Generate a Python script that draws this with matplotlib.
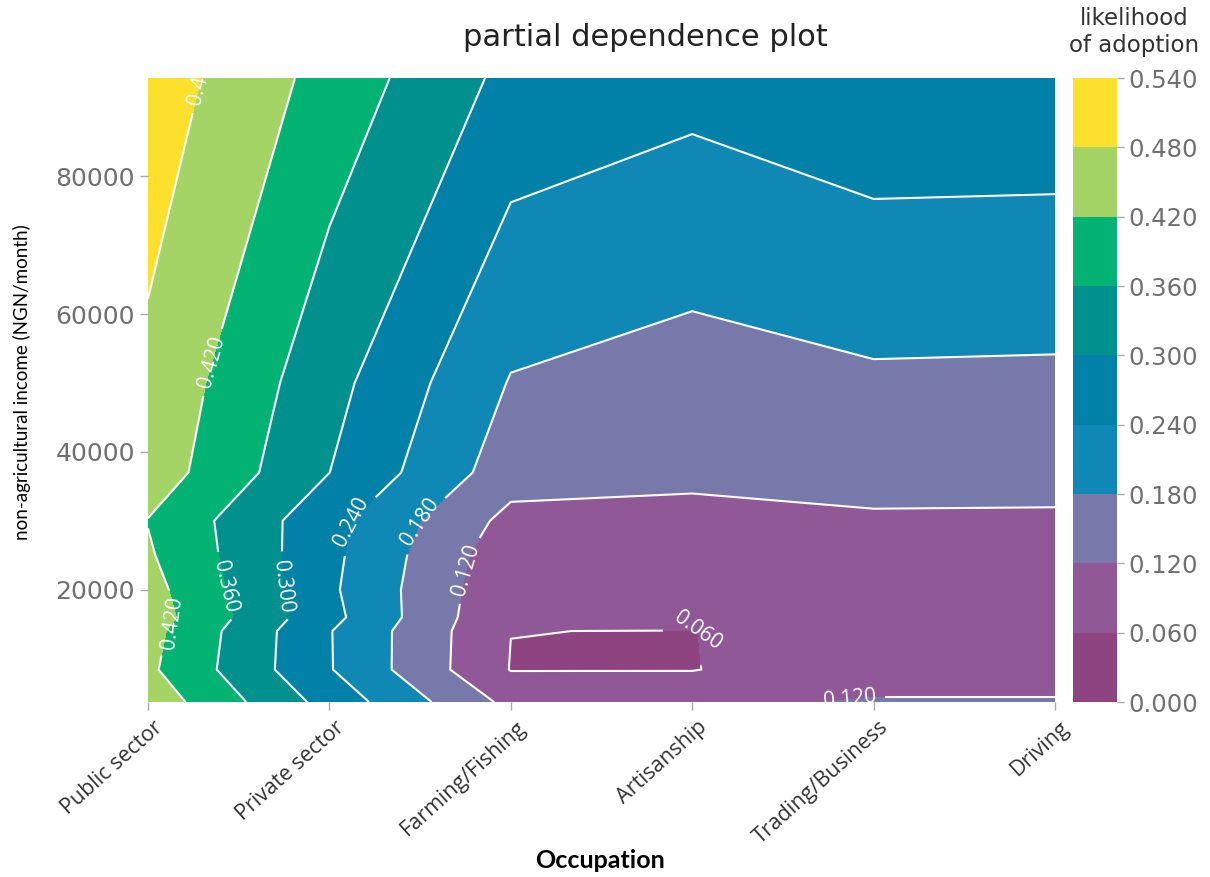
import numpy as np
import matplotlib
matplotlib.use("Agg")
import matplotlib.pyplot as plt
from matplotlib.colors import ListedColormap, BoundaryNorm
from matplotlib.transforms import ScaledTranslation

# Occupation categories (x) and non-agricultural income grid points (y)
occupations = ["Public sector", "Private sector", "Farming/Fishing",
               "Artisanship", "Trading/Business", "Driving"]
income_grid = [3700, 8400, 14000, 16000, 20000, 25000, 30000, 37000, 50000, 94250]

# Partial dependence (likelihood of adoption) along the income grid, per occupation
pd_public = [0.457, 0.431, 0.440, 0.450, 0.442, 0.427, 0.418, 0.4544, 0.467, 0.514]
pd_private = [0.278, 0.2437, 0.243, 0.258, 0.2503, 0.255, 0.259, 0.3003, 0.320, 0.398]
pd_farming = [0.104, 0.058, 0.0605, 0.063, 0.072, 0.080, 0.102, 0.148, 0.1764, 0.2838]
pd_artisan = [0.1085, 0.058, 0.059, 0.085, 0.090, 0.093, 0.094, 0.140, 0.1557, 0.259]
pd_trading = [0.124, 0.098, 0.090, 0.095, 0.100, 0.105, 0.114, 0.138, 0.1711, 0.2853]
pd_driving = [0.124, 0.098, 0.100, 0.102, 0.105, 0.108, 0.113, 0.138, 0.1693, 0.2835]

levels = [0.0, 0.06, 0.12, 0.18, 0.24, 0.30, 0.36, 0.42, 0.48, 0.54]
y_ticks = [20000, 40000, 60000, 80000]

band_colors = ["#8E4480", "#905896", "#7879AB", "#0F88B5", "#0180A8",
               "#00908D", "#02B374", "#A3D465", "#FDE02C"]

# where the contour value labels sit (occupation index, income)
label_spots = [(0.31, 94000), (0.35, 53000), (0.09, 16000), (0.42, 20500),
               (0.755, 20500), (1.11, 29900), (1.49, 29900), (1.74, 23000),
               (3.03, 13950), (3.87, 4400)]

Z = np.array([pd_public, pd_private, pd_farming, pd_artisan,
              pd_trading, pd_driving]).T
X = np.arange(len(occupations))
Y = np.array(income_grid)

cmap = ListedColormap(band_colors)
norm = BoundaryNorm(levels, cmap.N)

W, H = 1210, 877
fig = plt.figure(figsize=(W / 100, H / 100), dpi=100)
ax = fig.add_axes([148 / W, 1 - 702 / H, (1055 - 148) / W, (702 - 78) / H])
cax = fig.add_axes([1073 / W, 1 - 702 / H, 44 / W, (702 - 78) / H])

cf = ax.contourf(X, Y, Z, levels=levels, cmap=cmap, norm=norm)
cs = ax.contour(X, Y, Z, levels=levels[1:-1], colors="white", linewidths=1.5)
texts = ax.clabel(cs, fmt="%.3f", fontsize=15, colors="white",
                  manual=label_spots, inline=True, inline_spacing=5)
for t in texts:
    t.set_fontfamily("Open Sans")
    t.set_clip_on(True)
    t.set_clip_box(ax.bbox)
    if t.get_text() == "0.060":
        t.set_rotation(-35)

ax.set_xlim(X[0], X[-1])
ax.set_ylim(Y[0], Y[-1])
for sp in ax.spines.values():
    sp.set_visible(False)

ax.set_yticks(y_ticks)
ax.set_yticklabels([str(v) for v in y_ticks], fontsize=18, color="#707070")
ax.tick_params(axis="both", color="#aaaaaa", length=6, width=1)
ax.tick_params(axis="x", pad=3)

ax.set_xticks(X)
ax.set_xticklabels(occupations, rotation=42, ha="right", va="center",
                   rotation_mode="anchor", fontsize=15.5, color="#333333",
                   family="Open Sans")
shift = ScaledTranslation(12 / 100, -10 / 100, fig.dpi_scale_trans)
for lbl in ax.get_xticklabels():
    lbl.set_transform(lbl.get_transform() + shift)

cb = fig.colorbar(cf, cax=cax, ticks=levels)
cb.outline.set_visible(False)
cax.set_yticklabels([f"{v:.3f}" for v in levels])
cax.tick_params(labelsize=17.5, labelcolor="#707070", color="#aaaaaa",
                length=5, width=1)

fig.text(0.533, 1 - 38 / H, "partial dependence plot", ha="center",
         va="center", fontsize=22, color="#222222")
fig.text(1134 / W, 1 - 32 / H, "likelihood\nof adoption", ha="center",
         va="center", fontsize=16.5, color="#333333", linespacing=1.2)
fig.text(22 / W, 1 - 382 / H, "non-agricultural income (NGN/month)",
         rotation=90, ha="center", va="center", fontsize=13.5, color="black",
         family=["Liberation Sans Narrow", "Lato"])
fig.text(600 / W, 1 - 860 / H, "Occupation", ha="center", va="center",
         fontsize=18, fontweight="bold", color="black", family="Lato")

fig.savefig("out.png", dpi=100)
